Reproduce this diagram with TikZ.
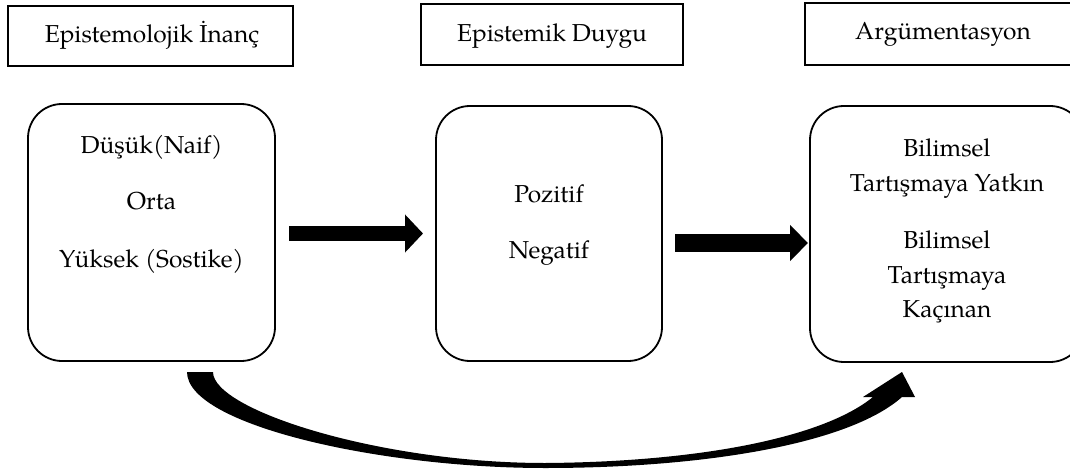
\documentclass[tikz,border=0pt]{standalone}
\usepackage{fontspec}
\setmainfont{TeX Gyre Pagella}
\usetikzlibrary{arrows.meta}
\begin{document}
\begin{tikzpicture}[x=1pt,y=-1pt,
  font=\fontsize{24.5}{29}\selectfont,
  titlebox/.style={draw=black, line width=2.2pt, rectangle, inner sep=0pt},
  stagebox/.style={draw=black, line width=1.8pt, rectangle, rounded corners=34pt, inner sep=0pt},
  lbl/.style={anchor=base, inner sep=0pt},
  blockarrow/.style={draw=black, line cap=butt},
]
\useasboundingbox (0,0) rectangle (1070,473);
\clip (0,0) rectangle (1070,473);

% title boxes
\node[titlebox, minimum width=285pt, minimum height=60pt] (t1) at (150.5,36) {};
\node[titlebox, minimum width=262pt, minimum height=61pt] (t2) at (552,34.5) {};
\node[titlebox, minimum width=276pt, minimum height=62pt] (t3) at (943,34) {};
\node[lbl] (t1txt) at (152,43) {Epistemolojik İnanç};
\node[lbl] (t2txt) at (552,42) {Epistemik Duygu};
\node[lbl] (t3txt) at (943,40) {Argümentasyon};

% stage boxes
\node[stagebox, minimum width=247pt, minimum height=257pt] (A) at (151.5,232.5) {};
\node[stagebox, minimum width=226pt, minimum height=255pt] (B) at (549,233.5) {};
\node[stagebox, minimum width=274pt, minimum height=256pt] (C) at (947,234) {};

\node[lbl] (a1) at (151.5,154) {Düşük(Naif)};
\node[lbl] (a2) at (151.5,209) {Orta};
\node[lbl] (a3) at (151.5,267) {Yüksek (Sostike)};

\node[lbl] (b1) at (549,203) {Pozitif};
\node[lbl] (b2) at (549,258) {Negatif};

\node[lbl] (c1) at (947,157) {Bilimsel};
\node[lbl] (c2) at (947,192) {Tartışmaya Yatkın};
\node[lbl] (c3) at (947,248) {Bilimsel};
\node[lbl] (c4) at (947,283) {Tartışmaya};
\node[lbl] (c5) at (947,317) {Kaçınan};

% straight block arrows
\coordinate (p1s) at (289,233.5);
\coordinate (p1e) at (423,233.5);
\coordinate (p2s) at (675,243);
\coordinate (p2e) at (808,243);
\draw[blockarrow, line width=15pt, -{Triangle[length=18pt,width=37pt]}] (p1s) -- (p1e);
\draw[blockarrow, line width=18pt, -{Triangle[length=18pt,width=35pt]}] (p2s) -- (p2e);

% curved tapered arrow from A to C
\coordinate (ct1) at (187,372);
\coordinate (ct2) at (213,372);
\coordinate (chl) at (863,397);
\coordinate (chi) at (873,397);
\coordinate (cho) at (902,397);
\coordinate (chr) at (915,397);
\coordinate (ctip) at (902,372);
\fill[black] (ct1) .. controls (187,425) and (380,468) .. (545,468)
  .. controls (700,468) and (848,445) .. (cho)
  -- (chr) -- (ctip) -- (chl) -- (chi)
  .. controls (820,440) and (690,462) .. (545,463)
  .. controls (380,463) and (213,410) .. (ct2) -- cycle;
\end{tikzpicture}
\end{document}
